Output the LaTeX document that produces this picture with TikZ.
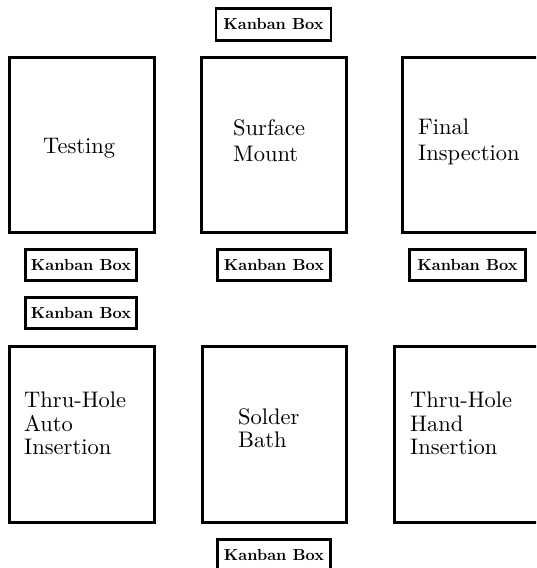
\documentclass[tikz,border=0pt]{standalone}
\usepackage{fontspec}
\setmainfont[Extension=.otf, UprightFont=lmroman10-regular, BoldFont=lmroman10-bold]{lmroman10-regular}
\begin{document}
\begin{tikzpicture}[x=1pt,y=-1pt,
  area/.style={draw, line width=3pt, rectangle, inner sep=0pt},
  kanban/.style={draw, line width=2.8pt, rectangle, inner sep=0pt, font=\bfseries\fontsize{16}{18}\selectfont},
  lbl/.style={inner sep=0pt, align=left, anchor=north west, font=\fontsize{22.5}{26}\selectfont},
  lblb/.style={lbl, font=\fontsize{22.5}{23.5}\selectfont}]
\useasboundingbox (0,0) rectangle (536,568);
\clip (0,0) rectangle (536,568);
% process areas, top row
\node[area, minimum width=145pt, minimum height=175pt] (testing) at (81.5,144.5) {};
\node[area, minimum width=145pt, minimum height=175pt] (surface) at (273.5,144.5) {};
\node[area, minimum width=145pt, minimum height=175pt] (final) at (474.5,144.5) {};
% process areas, bottom row
\node[area, minimum width=145pt, minimum height=176pt] (autoins) at (81.5,434) {};
\node[area, minimum width=144pt, minimum height=176pt] (solder) at (274,434) {};
\node[area, minimum width=145pt, minimum height=176pt] (handins) at (466.5,434) {};
% labels
\node[lbl, anchor=base west] (tTesting) at (43,153) {Testing};
\node[lbl] (tSurface) at (233,119) {Surface\\Mount};
\node[lbl] (tFinal) at (418,119) {Final\\Inspection};
\node[lblb] (tAuto) at (24,392) {Thru-Hole\\Auto\\Insertion};
\node[lblb] (tSolder) at (238,408) {Solder\\Bath};
\node[lblb] (tHand) at (410,392) {Thru-Hole\\Hand\\Insertion};
% kanban boxes
\node[kanban, minimum width=115pt, minimum height=32pt] (k1) at (273.5,24.25) {Kanban Box};
\node[kanban, minimum width=111pt, minimum height=31pt] (k2) at (81,265) {Kanban Box};
\node[kanban, minimum width=113pt, minimum height=31pt] (k3) at (274,265) {Kanban Box};
\node[kanban, minimum width=116pt, minimum height=31pt] (k4) at (467.5,265) {Kanban Box};
\node[kanban, minimum width=111pt, minimum height=31pt] (k5) at (81,313) {Kanban Box};
\node[kanban, minimum width=113pt, minimum height=31pt] (k6) at (274,555) {Kanban Box};
\end{tikzpicture}
\end{document}
